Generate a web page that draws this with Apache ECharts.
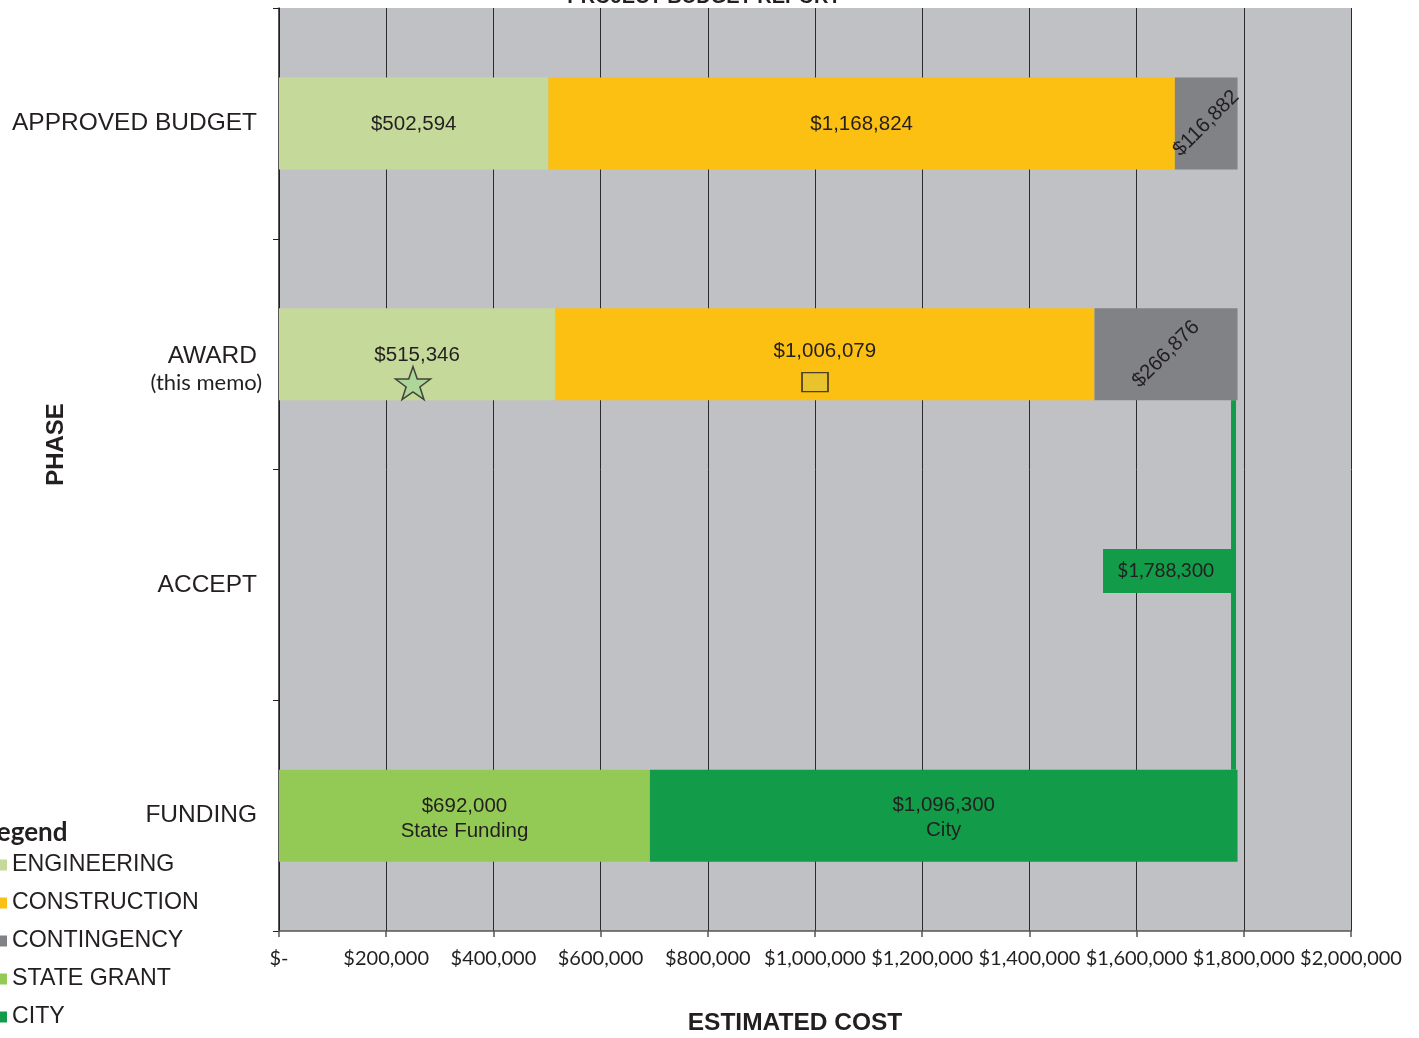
<!DOCTYPE html>
<html>
<head>
<meta charset="utf-8">
<script src="https://cdn.jsdelivr.net/npm/echarts@6/dist/echarts.min.js"></script>
<style>
  html, body { margin: 0; padding: 0; background: #ffffff; }
  #chart { width: 1419px; height: 1038px; }
</style>
</head>
<body>
<div id="chart"></div>
<script>
// Project phases (top to bottom) and their sub-captions
const phases = ['APPROVED BUDGET', 'AWARD', 'ACCEPT', 'FUNDING'];
const phaseNotes = ['', '(this memo)', '', ''];

// Cost components per phase ('-' = no bar in that phase)
const engineering  = [502594, 515346, '-', '-'];
const construction = [1168824, 1006079, '-', '-'];
const contingency  = [116882, 266876, '-', '-'];
const stateGrant   = ['-', '-', '-', 692000];
const city         = ['-', '-', '-', 1096300];

// Second line under the funding amounts
const fundingNotes = { 'STATE GRANT': 'State Funding', 'CITY': 'City' };

// Total accepted amount (links the award bar to the funding bar)
const acceptTotal = 1788300;

// Markers drawn under the award amounts
const starMarkerAt = 250000;
const boxMarkerAt = 1000000;

const COLORS = {
  ENGINEERING: '#c5d99b',
  CONSTRUCTION: '#fbc012',
  CONTINGENCY: '#808285',
  'STATE GRANT': '#93c955',
  CITY: '#129b48'
};
const INK = '#231f20';
const BAR_W = 92;

const money = v => '$' + Number(v).toLocaleString('en-US');

function barSeries(name, data, labelExtra) {
  return {
    name: name,
    type: 'bar',
    stack: 'phase',
    data: data,
    barWidth: BAR_W,
    itemStyle: { color: COLORS[name] },
    label: Object.assign({
      show: true,
      position: 'inside',
      color: INK,
      fontFamily: 'Liberation Sans',
      fontSize: 20.5,
      formatter: p => money(p.value)
    }, labelExtra || {}),
    emphasis: { disabled: true },
    animation: false
  };
}

const starPath = 'path://M50,2 L61.5,36 L97,36 L68.5,57.5 L79.5,92 L50,71 L20.5,92 L31.5,57.5 L3,36 L38.5,36 Z';

const chart = echarts.init(document.getElementById('chart'), null, { renderer: 'canvas' });

chart.setOption({
  backgroundColor: '#ffffff',
  animation: false,
  title: [
    {
      text: 'PROJECT BUDGET REPORT',
      left: 704,
      textAlign: 'center',
      top: -13,
      padding: 0,
      textStyle: { fontFamily: 'Liberation Sans', fontWeight: 'bold', fontSize: 20, color: INK }
    },
    {
      text: 'Legend',
      left: -16,
      top: 820,
      padding: 0,
      textStyle: { fontFamily: 'Lato', fontWeight: 'bold', fontSize: 26, color: INK }
    }
  ],
  legend: {
    data: ['ENGINEERING', 'CONSTRUCTION', 'CONTINGENCY', 'STATE GRANT', 'CITY'],
    orient: 'vertical',
    left: -4,
    top: 853,
    padding: 0,
    icon: 'rect',
    itemWidth: 11,
    itemHeight: 11,
    itemGap: 14,
    selectedMode: false,
    textStyle: { fontFamily: 'Liberation Sans', fontSize: 23.2, color: INK, lineHeight: 24 }
  },
  grid: {
    left: 279,
    right: 68,
    top: 8,
    bottom: 107,
    containLabel: false,
    outerBoundsMode: 'none',
    show: true,
    backgroundColor: '#c0c1c5',
    borderWidth: 0
  },
  xAxis: {
    type: 'value',
    min: 0,
    max: 2000000,
    interval: 200000,
    name: 'ESTIMATED COST',
    nameLocation: 'middle',
    nameGap: 80,
    nameMoveOverlap: false,
    nameTextStyle: {
      fontFamily: 'Liberation Sans', fontWeight: 'bold', fontSize: 24.5, color: INK,
      padding: [0, 40, 0, 0]
    },
    axisLine: { show: true, lineStyle: { color: '#555555', width: 1.5 } },
    axisTick: { show: true, length: 6, lineStyle: { color: '#555555', width: 1.5 } },
    axisLabel: {
      margin: 18,
      fontFamily: 'Lato',
      fontSize: 20,
      color: INK,
      formatter: v => (v === 0 ? '$-' : money(v))
    },
    splitLine: { show: true, lineStyle: { color: '#2b2b2b', width: 1 } }
  },
  yAxis: {
    type: 'category',
    inverse: true,
    data: phases,
    name: 'PHASE',
    nameLocation: 'middle',
    nameGap: 211,
    nameMoveOverlap: false,
    nameTextStyle: {
      fontFamily: 'Liberation Sans', fontWeight: 'bold', fontSize: 24, color: INK,
      padding: [0, 0, 0, 50]
    },
    axisLine: { show: true, lineStyle: { color: '#231f20', width: 1.5 } },
    axisTick: { show: true, length: 6, lineStyle: { color: '#231f20', width: 1 } },
    axisLabel: {
      margin: 17,
      align: 'right',
      formatter: (v, i) => phaseNotes[i]
        ? '{mainTall|' + v + '}\n{note|' + phaseNotes[i] + '}'
        : '{main|' + v + '}',
      rich: {
        main: {
          fontFamily: 'Liberation Sans', fontSize: 24.5, color: INK,
          padding: [0, 5, 0, 0], align: 'right'
        },
        mainTall: {
          fontFamily: 'Liberation Sans', fontSize: 24.5, color: INK,
          padding: [0, 5, 0, 0], align: 'right',
          lineHeight: 58, verticalAlign: 'bottom'
        },
        note: {
          fontFamily: 'Lato', fontSize: 22, color: INK,
          lineHeight: 29, align: 'right'
        }
      }
    },
    splitLine: { show: false }
  },
  series: [
    barSeries('ENGINEERING', engineering, { offset: [0, 1] }),
    barSeries('CONSTRUCTION', construction.map((v, i) =>
      i === 1 ? { value: v, label: { offset: [0, -3] } } : v), { offset: [0, 1] }),
    barSeries('CONTINGENCY', contingency, { rotate: 45 }),
    barSeries('STATE GRANT', stateGrant, {
      lineHeight: 25,
      offset: [0, 3],
      formatter: p => money(p.value) + '\n' + fundingNotes['STATE GRANT']
    }),
    barSeries('CITY', city, {
      lineHeight: 25,
      offset: [0, 2],
      formatter: p => money(p.value) + '\n' + fundingNotes['CITY']
    }),
    {
      // Link between the award bar end and the funding bar, with the accepted total
      name: 'accept-link',
      type: 'custom',
      data: [[acceptTotal, 2]],
      encode: { x: 0, y: 1 },
      silent: true,
      z: 5,
      renderItem: (params, api) => {
        const xEnd = api.coord([api.value(0), 2])[0];
        const yAward = api.coord([0, 1])[1];
        const yAccept = api.coord([0, 2])[1];
        const yFunding = api.coord([0, 3])[1];
        const half = BAR_W / 2;
        return {
          type: 'group',
          children: [
            {
              type: 'rect',
              shape: { x: xEnd - 6.5, y: yAward + half, width: 5, height: (yFunding - half) - (yAward + half) },
              style: { fill: COLORS.CITY }
            },
            {
              type: 'rect',
              shape: { x: xEnd - 134.5, y: yAccept - 36, width: 129, height: 44 },
              style: { fill: COLORS.CITY }
            },
            {
              type: 'text',
              style: {
                text: money(api.value(0)),
                x: xEnd - 72, y: yAccept - 14,
                align: 'center', verticalAlign: 'middle',
                fontFamily: 'Lato', fontSize: 19, fill: INK
              }
            }
          ]
        };
      }
    },
    {
      name: 'star-marker',
      type: 'scatter',
      data: [[starMarkerAt, 1]],
      symbol: starPath,
      symbolSize: [35, 33],
      symbolOffset: [0, 29],
      itemStyle: { color: '#a8d49a', borderColor: INK, borderWidth: 1.5 },
      silent: true,
      z: 6
    },
    {
      name: 'box-marker',
      type: 'scatter',
      data: [[boxMarkerAt, 1]],
      symbol: 'rect',
      symbolSize: [26, 19],
      symbolOffset: [0, 28],
      itemStyle: { color: '#e3c335', borderColor: INK, borderWidth: 1.5 },
      silent: true,
      z: 6
    }
  ]
});
</script>
</body>
</html>
